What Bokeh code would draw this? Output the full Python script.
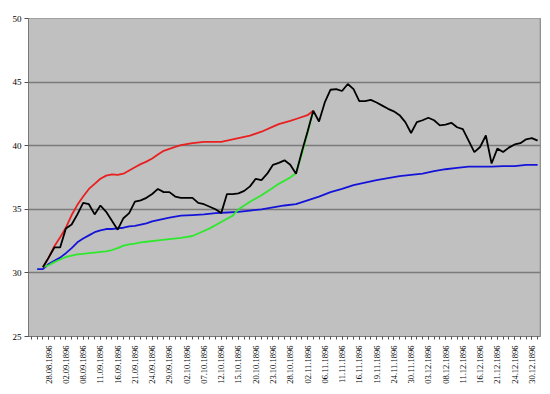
import math
from bokeh.plotting import figure
from bokeh.models import Range1d, FixedTicker, Span, BoxAnnotation
from bokeh.embed import file_html
from bokeh.resources import INLINE

# ---- tick labels (category axis, one label every 3 categories) ----
date_labels = ["28.08.1896", "02.09.1896", "08.09.1896", "11.09.1896", "16.09.1896",
               "21.09.1896", "24.09.1896", "29.09.1896", "02.10.1896", "07.10.1896",
               "12.10.1896", "15.10.1896", "20.10.1896", "23.10.1896", "28.10.1896",
               "02.11.1896", "06.11.1896", "11.11.1896", "16.11.1896", "19.11.1896",
               "24.11.1896", "30.11.1896", "03.12.1896", "08.12.1896", "11.12.1896",
               "16.12.1896", "21.12.1896", "24.12.1896", "30.12.1896"]
n_categories = 89
label_step = 3
label_start = 3

# ---- series (category index, value) ----
black_idx = list(range(2, 89))
black_val = [30.45, 31.2, 32.0, 32.0, 33.5, 33.8, 34.6, 35.5, 35.4, 34.6,
             35.3, 34.8, 34.1, 33.4, 34.3, 34.7, 35.6, 35.7, 35.9, 36.2,
             36.6, 36.35, 36.35, 36.0, 35.9, 35.9, 35.9, 35.5, 35.4, 35.2,
             35.0, 34.7, 36.2, 36.2, 36.25, 36.45, 36.8, 37.4, 37.3, 37.8,
             38.5, 38.65, 38.85, 38.5, 37.8, 39.5, 41.1, 42.75, 41.9, 43.4,
             44.4, 44.45, 44.3, 44.85, 44.45, 43.5, 43.5, 43.6, 43.4, 43.15,
             42.9, 42.7, 42.4, 41.85, 41.0, 41.85, 42.0, 42.2, 42.0, 41.6,
             41.65, 41.8, 41.45, 41.3, 40.4, 39.5, 39.9, 40.8, 38.6, 39.77,
             39.5, 39.85, 40.1, 40.2, 40.5, 40.6, 40.4]

red_idx = [2, 3, 4, 5, 6, 7, 8, 9, 10, 11, 12, 13, 14, 15, 16, 17, 18, 19, 20, 21,
           22, 23, 24, 25, 26, 28, 30, 33, 35, 36, 38, 40, 42, 43, 45, 46, 48, 49]
red_val = [30.45, 31.2, 32.1, 32.8, 33.55, 34.55, 35.35, 36.0, 36.6, 37.0,
           37.4, 37.65, 37.75, 37.7, 37.8, 38.05, 38.3, 38.55, 38.75, 39.0,
           39.3, 39.6, 39.75, 39.9, 40.05, 40.2, 40.3, 40.3, 40.5, 40.6,
           40.8, 41.1, 41.5, 41.7, 41.95, 42.1, 42.4, 42.75]

green_idx = [2, 3, 4, 5, 6, 7, 8, 9, 10, 11, 12, 13, 14, 15, 16, 17, 18, 19, 20, 22,
             24, 26, 28, 29, 31, 33, 35, 36, 38, 40, 42, 43, 45, 46, 47, 48, 49]
green_val = [30.45, 30.6, 30.85, 31.05, 31.25, 31.35, 31.45, 31.5, 31.55, 31.6,
             31.65, 31.7, 31.8, 31.95, 32.15, 32.25, 32.3, 32.4, 32.45, 32.55,
             32.65, 32.75, 32.9, 33.1, 33.5, 34.0, 34.5, 35.0, 35.6, 36.1,
             36.7, 37.0, 37.5, 37.85, 39.3, 41.0, 42.75]

blue_idx = [1, 2, 3, 4, 5, 6, 7, 8, 9, 10, 11, 12, 13, 14, 15, 16, 17, 18, 19, 20,
            21, 22, 24, 26, 28, 30, 32, 34, 36, 38, 40, 42, 44, 46, 48, 50, 52, 54,
            56, 58, 60, 62, 64, 66, 68, 70, 72, 74, 76, 80, 82, 84, 86, 88]
blue_val = [30.3, 30.3, 30.7, 30.95, 31.2, 31.55, 31.95, 32.4, 32.7, 32.95,
            33.2, 33.35, 33.45, 33.45, 33.5, 33.55, 33.65, 33.7, 33.8, 33.9,
            34.05, 34.15, 34.35, 34.5, 34.55, 34.6, 34.7, 34.75, 34.8, 34.9,
            35.0, 35.15, 35.3, 35.4, 35.7, 36.0, 36.35, 36.6, 36.9, 37.1,
            37.3, 37.45, 37.6, 37.7, 37.8, 38.0, 38.15, 38.25, 38.35, 38.35,
            38.4, 38.4, 38.5, 38.5]

y_ticks = [25, 30, 35, 40, 45, 50]
y_grid = [30, 35, 40, 45]

FONT = "Liberation Serif"

p = figure(width=550, height=394, output_backend="svg", toolbar_location=None,
           x_range=Range1d(-0.5, n_categories - 0.5), y_range=Range1d(25, 50),
           min_border_left=28, min_border_right=10, min_border_top=18,
           min_border_bottom=58)

p.background_fill_color = "#c0c0c0"
p.border_fill_color = "white"
p.outline_line_color = "#606060"
p.outline_line_dash = "1 1"

# grid
p.xgrid.visible = False
p.ygrid.ticker = FixedTicker(ticks=y_grid)
p.ygrid.grid_line_color = "#7a7a7a"
p.ygrid.grid_line_width = 1.5

# right edge solid line
p.add_layout(Span(location=n_categories - 0.5, dimension="height",
                  line_color="#808080", line_width=1.5))

# outer chart frame
p.add_layout(BoxAnnotation(left=2, right=546, top=2, bottom=391,
                           left_units="canvas", right_units="canvas",
                           top_units="canvas", bottom_units="canvas",
                           fill_alpha=0, line_color="#a8a8a8", line_width=1,
                           level="overlay"))

# x axis
label_pos = [label_start + label_step * k for k in range(len(date_labels))]
p.xaxis.ticker = FixedTicker(ticks=label_pos, minor_ticks=list(range(n_categories)))
p.xaxis.major_label_overrides = {pos: lab for pos, lab in zip(label_pos, date_labels)}
p.xaxis.major_label_orientation = math.pi / 2
p.xaxis.major_label_text_font = FONT
p.xaxis.major_label_text_font_size = "8.5px"
p.xaxis.major_label_text_color = "black"
p.xaxis.major_label_standoff = 6
p.xaxis.axis_line_color = "#505050"
p.xaxis.axis_line_dash = "1 1"
p.xaxis.major_tick_in = 0
p.xaxis.major_tick_out = 3
p.xaxis.minor_tick_in = 0
p.xaxis.minor_tick_out = 3
p.xaxis.major_tick_line_color = "#505050"
p.xaxis.minor_tick_line_color = "#505050"

# y axis
p.yaxis.ticker = FixedTicker(ticks=y_ticks, minor_ticks=[])
p.yaxis.major_label_text_font = FONT
p.yaxis.major_label_text_font_size = "9px"
p.yaxis.major_label_text_color = "black"
p.yaxis.major_label_standoff = 3
p.yaxis.axis_line_color = "#505050"
p.yaxis.axis_line_dash = "1 1"
p.yaxis.major_tick_in = 0
p.yaxis.major_tick_out = 4
p.yaxis.major_tick_line_color = "#505050"

# series
p.line(blue_idx, blue_val, line_color="#1414d8", line_width=1.8)
p.line(green_idx, green_val, line_color="#2ee82e", line_width=1.8)
p.line(red_idx, red_val, line_color="#e82020", line_width=1.8)
p.line(black_idx, black_val, line_color="black", line_width=1.8)

open("out.html", "w").write(file_html(p, INLINE))
